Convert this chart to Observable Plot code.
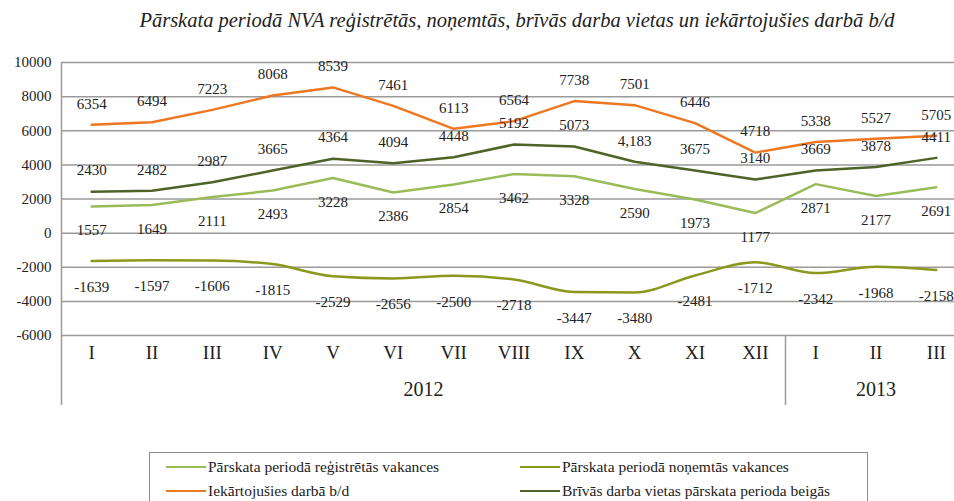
<!DOCTYPE html>
<html><head><meta charset="utf-8">
<script src="https://cdn.jsdelivr.net/npm/d3@7"></script>
<script src="https://cdn.jsdelivr.net/npm/@observablehq/plot@0.6"></script>
<style>
body{margin:0;background:#fff;font-family:"Liberation Serif","Times New Roman",serif;color:#222;}
#wrap{position:relative;width:954px;height:501px;overflow:hidden;background:#fff;}
#title{position:absolute;left:0;top:9px;width:1034px;text-align:center;font-style:italic;font-size:20.5px;color:#222;white-space:nowrap;}
#chart{position:absolute;left:0;top:40px;}
#legend{position:absolute;left:149px;top:452px;width:717px;height:70px;border:1px solid #8c8c8c;background:#fff;}
.item{position:absolute;font-size:15.5px;display:flex;align-items:center;white-space:nowrap;height:18px;}
.sw{width:40px;height:0;border-top:2.5px solid;margin-right:2px;}
</style></head>
<body>
<div id="wrap">
  <div id="title"></div>
  <div id="chart"></div>
  <div id="legend"></div>
</div>
<script>
const title = "Pārskata periodā NVA reģistrētās, noņemtās, brīvās darba vietas un iekārtojušies darbā b/d";
const months = ["I","II","III","IV","V","VI","VII","VIII","IX","X","XI","XII","I","II","III"];
const years = ["2012","2012","2012","2012","2012","2012","2012","2012","2012","2012","2012","2012","2013","2013","2013"];
const yearGroups = ["2012","2013"];
const registered = [1557,1649,2111,2493,3228,2386,2854,3462,3328,2590,1973,1177,2871,2177,2691];
const removed = [-1639,-1597,-1606,-1815,-2529,-2656,-2500,-2718,-3447,-3480,-2481,-1712,-2342,-1968,-2158];
const employed = [6354,6494,7223,8068,8539,7461,6113,6564,7738,7501,6446,4718,5338,5527,5705];
const vacant = [2430,2482,2987,3665,4364,4094,4448,5192,5073,4183,3675,3140,3669,3878,4411];
const vacantLabels = ["2430","2482","2987","3665","4364","4094","4448","5192","5073","4,183","3675","3140","3669","3878","4411"];
const yTicks = [-6000,-4000,-2000,0,2000,4000,6000,8000,10000];
const seriesNames = ["Pārskata periodā reģistrētās vakances","Pārskata periodā noņemtās vakances","Iekārtojušies darbā b/d","Brīvās darba vietas pārskata perioda beigās"];
const seriesColors = ["#9bbb59","#8a991d","#ee7722","#4f6228"];

document.getElementById("title").textContent = title;

const idx = d3.range(months.length);
const rows = idx.map(i => ({i, month: months[i], year: years[i],
  registered: registered[i], removed: removed[i], employed: employed[i], vacant: vacant[i], vacantLabel: vacantLabels[i]}));
const boundary = years.indexOf(yearGroups[1]) - 0.5;
const grey = "#9a9a9a";
const font = 15;

const chart = Plot.plot({
  width: 954, height: 410,
  marginTop: 22, marginBottom: 115, marginLeft: 61, marginRight: 0,
  x: {type: "linear", domain: [-0.5, months.length - 0.5], range: [61, 966], axis: null},
  y: {domain: [-6000, 10000], axis: null},
  style: {fontFamily: "'Liberation Serif','Times New Roman',serif", background: "white", overflow: "hidden"},
  marks: [
    Plot.ruleY(yTicks, {stroke: grey, strokeWidth: 1.5}),
    Plot.text(yTicks, {x: -0.5, y: d => d, text: d => String(d), textAnchor: "end", dx: -10, fontSize: font, fill: "#222"}),
    Plot.ruleX([-0.5], {y1: 10000, y2: -6000, insetBottom: -70, stroke: grey, strokeWidth: 1.5}),
    Plot.ruleX([boundary], {y1: -6000, y2: -6000, insetBottom: -70, stroke: grey, strokeWidth: 1.5}),
    Plot.text(rows, {x: "i", text: "month", frameAnchor: "bottom", dy: 23, fontSize: 19, fill: "#222"}),
    Plot.text(yearGroups, {x: g => d3.mean(idx.filter(i => years[i] === g)), text: d => d, frameAnchor: "bottom", dy: 60, fontSize: 20, fill: "#222"}),
    Plot.line(rows, {x: "i", y: "registered", stroke: seriesColors[0], strokeWidth: 2.5}),
    Plot.line(rows, {x: "i", y: "removed", stroke: seriesColors[1], strokeWidth: 2.5, curve: "monotone-x"}),
    Plot.line(rows, {x: "i", y: "employed", stroke: seriesColors[2], strokeWidth: 2.5}),
    Plot.line(rows, {x: "i", y: "vacant", stroke: seriesColors[3], strokeWidth: 2.5}),
    Plot.text(rows, {x: "i", y: "employed", text: d => String(d.employed), dy: -21, fontSize: font, fill: "#222"}),
    Plot.text(rows, {x: "i", y: "vacant", text: "vacantLabel", dy: -21, fontSize: font, fill: "#222"}),
    Plot.text(rows, {x: "i", y: "registered", text: d => String(d.registered), dy: 24, fontSize: font, fill: "#222"}),
    Plot.text(rows, {x: "i", y: "removed", text: d => String(d.removed), dy: 26, fontSize: font, fill: "#222"})
  ]
});
document.getElementById("chart").appendChild(chart);

const legend = document.getElementById("legend");
const pos = [[16, 5], [370, 5], [16, 29], [370, 29]];
seriesNames.forEach((name, k) => {
  const it = document.createElement("div");
  it.className = "item";
  it.style.left = pos[k][0] + "px";
  it.style.top = pos[k][1] + "px";
  const sw = document.createElement("span");
  sw.className = "sw";
  sw.style.borderTopColor = seriesColors[k];
  const tx = document.createElement("span");
  tx.textContent = name;
  it.appendChild(sw); it.appendChild(tx);
  legend.appendChild(it);
});
</script>
</body></html>
